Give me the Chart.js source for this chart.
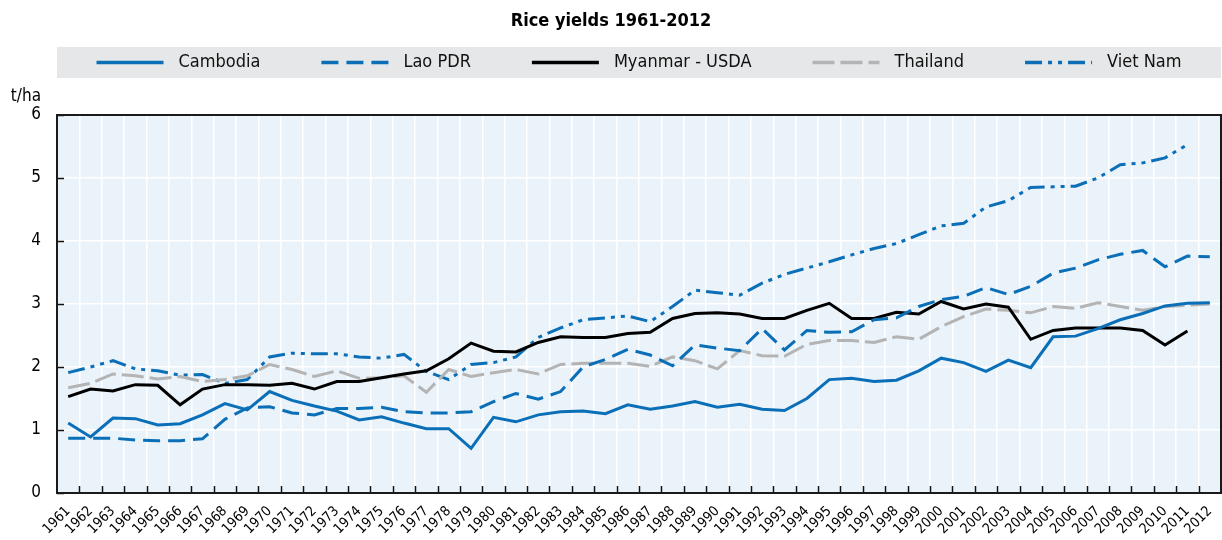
<!DOCTYPE html>
<html><head><meta charset="utf-8">
<script src="https://cdn.jsdelivr.net/npm/chart.js@4/dist/chart.umd.min.js"></script>
<style>html,body{margin:0;padding:0;background:#fff}#wrap{width:1222px;height:540px;position:relative}</style>
</head><body><div id="wrap"><canvas id="c" width="1222" height="540"></canvas></div>
<script>
const titleText = 'Rice yields 1961-2012';
const unitLabel = 't/ha';
const years = ['1961','1962','1963','1964','1965','1966','1967','1968','1969','1970','1971','1972','1973','1974','1975','1976','1977','1978','1979','1980','1981','1982','1983','1984','1985','1986','1987','1988','1989','1990','1991','1992','1993','1994','1995','1996','1997','1998','1999','2000','2001','2002','2003','2004','2005','2006','2007','2008','2009','2010','2011','2012'];
const yTicks = [0,1,2,3,4,5,6];
const cambodia = [1.11,0.89,1.19,1.18,1.08,1.10,1.24,1.42,1.32,1.61,1.47,1.38,1.30,1.16,1.21,1.11,1.02,1.02,0.71,1.20,1.13,1.24,1.29,1.30,1.26,1.40,1.33,1.38,1.45,1.36,1.41,1.33,1.31,1.50,1.80,1.82,1.77,1.79,1.94,2.14,2.07,1.93,2.11,1.99,2.48,2.49,2.61,2.75,2.85,2.97,3.01,3.02];
const laoPDR = [0.87,0.87,0.87,0.84,0.83,0.83,0.86,1.17,1.35,1.37,1.27,1.24,1.34,1.34,1.36,1.29,1.27,1.27,1.29,1.45,1.58,1.49,1.61,2.00,2.12,2.28,2.19,2.02,2.35,2.30,2.26,2.61,2.27,2.58,2.55,2.56,2.75,2.78,2.96,3.07,3.12,3.26,3.15,3.28,3.49,3.57,3.70,3.79,3.85,3.59,3.76,3.75];
const myanmar = [1.53,1.65,1.62,1.72,1.71,1.40,1.65,1.72,1.72,1.71,1.74,1.65,1.77,1.77,1.83,1.89,1.94,2.13,2.38,2.25,2.24,2.39,2.48,2.47,2.47,2.53,2.55,2.77,2.85,2.86,2.84,2.77,2.77,2.90,3.01,2.77,2.77,2.87,2.84,3.04,2.92,3.00,2.95,2.44,2.58,2.62,2.62,2.62,2.58,2.35,2.57,null];
const thailand = [1.67,1.74,1.89,1.86,1.81,1.85,1.77,1.80,1.86,2.04,1.96,1.85,1.94,1.82,1.83,1.86,1.60,1.96,1.85,1.91,1.96,1.89,2.04,2.06,2.06,2.06,2.01,2.16,2.10,1.97,2.26,2.18,2.17,2.36,2.42,2.42,2.39,2.48,2.44,2.64,2.80,2.92,2.90,2.86,2.96,2.93,3.02,2.96,2.90,2.96,2.98,3.00];
const vietNam = [1.91,2.00,2.10,1.97,1.94,1.87,1.88,1.74,1.80,2.16,2.22,2.21,2.21,2.16,2.14,2.20,1.93,1.80,2.04,2.07,2.16,2.47,2.62,2.75,2.78,2.81,2.72,2.96,3.22,3.18,3.14,3.33,3.47,3.57,3.67,3.78,3.88,3.96,4.10,4.24,4.28,4.54,4.64,4.85,4.86,4.87,5.00,5.21,5.24,5.32,5.53,null];

const FONT = "'Liberation Sans Narrow','Arial Narrow','DejaVu Sans Condensed',sans-serif";
const BLUE = '#0a6fb7';

function ds(label, data, color, dash){
  return {label, data, borderColor: color, backgroundColor: color, borderWidth: 3, borderDash: dash,
    pointRadius: 0, pointHoverRadius: 0, tension: 0, fill: false, spanGaps: false};
}

const decor = {
  id: 'decor',
  beforeDraw(chart){
    const {ctx, chartArea: a} = chart;
    ctx.save();
    ctx.fillStyle = '#eaf2fa';
    ctx.fillRect(a.left, a.top, a.right - a.left, a.bottom - a.top);
    ctx.restore();
  },
  afterDraw(chart){
    const {ctx, chartArea: a} = chart;
    const xs = chart.scales.x, ys = chart.scales.y;
    ctx.save();
    ctx.strokeStyle = '#111';
    ctx.lineWidth = 1.5;
    ctx.beginPath();
    for (let i = 1; i < years.length; i++) {
      const px = Math.round(xs.getPixelForValue(i - 0.5)) + 0.5;
      ctx.moveTo(px, a.bottom); ctx.lineTo(px, a.bottom - 7);
    }
    yTicks.forEach(v => {
      const py = Math.round(ys.getPixelForValue(v)) + 0.5;
      ctx.moveTo(a.left, py); ctx.lineTo(a.left + 7, py);
    });
    ctx.stroke();
    ctx.strokeStyle = '#1a1a1a';
    ctx.lineWidth = 2;
    ctx.strokeRect(a.left, a.top, a.right - a.left, a.bottom - a.top);
    ctx.fillStyle = '#000';
    ctx.font = 'bold 18px ' + FONT;
    ctx.textAlign = 'center'; ctx.textBaseline = 'middle';
    ctx.fillText(titleText, chart.width / 2, 21);
    ctx.font = '17px ' + FONT;
    ctx.textAlign = 'right';
    ctx.fillText(unitLabel, 41, 97);
    ctx.fillStyle = '#e6e7e8';
    ctx.fillRect(a.left, 47, a.right - a.left, 31);
    ctx.font = '18px ' + FONT;
    const sample = 67, tgap = 15, igap = 61;
    const items = chart.data.datasets.map(d => ({d, w: sample + tgap + ctx.measureText(d.label).width}));
    const total = items.reduce((s, it) => s + it.w, 0) + igap * (items.length - 1);
    let x = (a.left + a.right) / 2 - total / 2;
    const ly = 62.5;
    items.forEach(it => {
      ctx.save();
      ctx.strokeStyle = it.d.borderColor;
      ctx.lineWidth = 3.5;
      ctx.setLineDash(it.d.borderDash || []);
      ctx.beginPath(); ctx.moveTo(x, ly); ctx.lineTo(x + sample, ly); ctx.stroke();
      ctx.restore();
      ctx.fillStyle = '#111';
      ctx.textAlign = 'left'; ctx.textBaseline = 'middle';
      ctx.fillText(it.d.label, x + sample + tgap, ly);
      x += it.w + igap;
    });
    ctx.restore();
  }
};

new Chart(document.getElementById('c'), {
  type: 'line',
  data: {
    labels: years,
    datasets: [
      ds('Cambodia', cambodia, BLUE, []),
      ds('Lao PDR', laoPDR, BLUE, [17, 8]),
      ds('Myanmar - USDA', myanmar, '#000000', []),
      ds('Thailand', thailand, '#b4b4b4', [22, 6]),
      ds('Viet Nam', vietNam, BLUE, [17, 6, 4, 6, 4, 6])
    ]
  },
  options: {
    responsive: false, animation: false, devicePixelRatio: 1,
    layout: {padding: {top: 115, right: 1, left: 0, bottom: 0}},
    plugins: {legend: {display: false}, title: {display: false}, tooltip: {enabled: false}},
    scales: {
      x: {
        type: 'category', offset: true,
        grid: {offset: true, color: '#ffffff', lineWidth: 1.5, drawTicks: false},
        border: {display: false},
        ticks: {autoSkip: false, maxRotation: 45, minRotation: 45, padding: 10, color: '#000',
          font: {family: FONT, size: 14}},
        afterFit(s){ s.height = 47; s.paddingLeft = 0; s.paddingRight = 0; }
      },
      y: {
        min: 0, max: 6,
        grid: {color: '#ffffff', lineWidth: 1.5, drawTicks: false},
        border: {display: false},
        ticks: {stepSize: 1, padding: 16, color: '#000', font: {family: FONT, size: 17}},
        afterFit(s){ s.width = 57; s.paddingTop = 0; s.paddingBottom = 0; }
      }
    }
  },
  plugins: [decor]
});
</script></body></html>
